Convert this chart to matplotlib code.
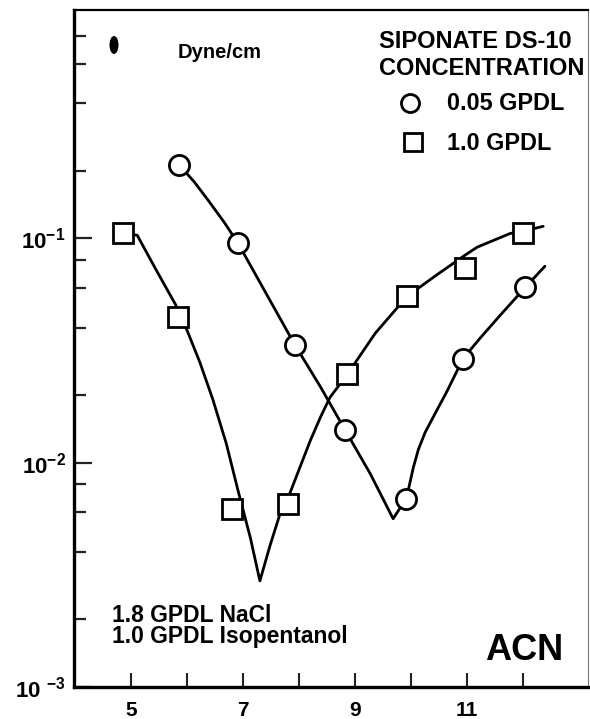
import matplotlib
matplotlib.use("Agg")
import matplotlib.pyplot as plt
from matplotlib.patches import Ellipse
from matplotlib.ticker import FixedLocator, NullFormatter

plt.rcParams['font.family'] = ['Liberation Sans', 'DejaVu Sans']
plt.rcParams['font.weight'] = 'bold'
plt.rcParams['mathtext.fontset'] = 'custom'
plt.rcParams['mathtext.rm'] = 'Liberation Sans:bold'
plt.rcParams['mathtext.bf'] = 'Liberation Sans:bold'
plt.rcParams['mathtext.it'] = 'Liberation Sans:bold'

# Measured interfacial tension (dyne/cm) against ACN
low_x = [5.86, 6.91, 7.93, 8.82, 9.91, 10.93, 12.04]
low_y = [0.212, 0.095, 0.0333, 0.0140, 0.0069, 0.0291, 0.0604]
high_x = [4.86, 5.84, 6.80, 7.80, 8.86, 9.93, 10.96, 12.00]
high_y = [0.106, 0.0444, 0.00624, 0.00656, 0.0247, 0.0551, 0.0734, 0.106]

# Hand-faired trend curves through each series
low_curve_x = [5.86, 6.13, 6.39, 6.66, 6.91, 7.41, 7.93, 8.38, 8.82, 9.27,
               9.68, 9.91, 9.96, 10.04, 10.13, 10.25, 10.43, 10.64, 10.93,
               11.23, 11.59, 12.04, 12.39]
low_curve_y = [0.212, 0.178, 0.146, 0.118, 0.095, 0.0568, 0.0333, 0.0218,
               0.0140, 0.00893, 0.00562, 0.0069, 0.00773, 0.00950, 0.01143,
               0.01361, 0.01656, 0.02075, 0.0291, 0.0358, 0.0453, 0.0604,
               0.0750]
high_curve_x = [4.86, 5.11, 5.45, 5.79, 6.00, 6.23, 6.46, 6.70, 6.91, 7.13,
                7.30, 7.48, 7.66, 7.84, 8.02, 8.20, 8.38, 8.55, 8.86, 9.36,
                9.93, 10.45, 10.96, 11.18, 11.77, 12.00, 12.36]
high_curve_y = [0.106, 0.103, 0.0720, 0.0508, 0.0388, 0.0279, 0.0191, 0.01216,
                0.0075, 0.00462, 0.00297, 0.00426, 0.00592, 0.00735, 0.0096,
                0.01253, 0.0159, 0.0195, 0.0247, 0.0377, 0.0551, 0.0684,
                0.0839, 0.0912, 0.105, 0.1074, 0.113]

x_ticks = [5, 6, 7, 8, 9, 10, 11, 12]
x_tick_labels = ['5', '', '7', '', '9', '', '11', '']
y_ticks = [1e-3, 1e-2, 1e-1]
y_tick_labels = [r'$\mathbf{10\ ^{-3}}$', r'$\mathbf{10^{-2}}$', r'$\mathbf{10^{-1}}$']
y_minor = [m * d for d in (1e-3, 1e-2, 1e-1) for m in (2, 4, 6, 8)]

legend_labels = ['0.05 GPDL', '1.0 GPDL']
legend_title = ['SIPONATE DS-10', 'CONCENTRATION']
notes = ['1.8 GPDL NaCl', '1.0 GPDL Isopentanol']

fig = plt.figure(figsize=(5.9, 7.19), dpi=100)
ax = fig.add_axes([74 / 590, 1 - 687 / 719, 514 / 590, 677 / 719])
ax.set_yscale('log')
ax.set_xlim(3.98, 13.16)
ax.set_ylim(1e-3, 1.04)

line_kw = dict(color='black', lw=2.0, solid_capstyle='round',
               solid_joinstyle='round', zorder=2)
ax.plot(low_curve_x, low_curve_y, **line_kw)
ax.plot(high_curve_x, high_curve_y, **line_kw)

mk_kw = dict(linestyle='none', mfc='white', mec='black', mew=2.0, zorder=3)
ax.plot(low_x, low_y, marker='o', ms=14.5, **mk_kw)
ax.plot(high_x, high_y, marker='s', ms=14.5, **mk_kw)

# spines
for side in ('left', 'bottom'):
    ax.spines[side].set_linewidth(2.4)
ax.spines['top'].set_linewidth(1.6)
ax.spines['right'].set_linewidth(0.8)
ax.spines['right'].set_color('#777777')

ax.set_xticks(x_ticks)
ax.set_xticklabels(x_tick_labels)
ax.set_yticks(y_ticks)
ax.set_yticklabels(y_tick_labels)
ax.yaxis.set_minor_locator(FixedLocator(y_minor))
ax.yaxis.set_minor_formatter(NullFormatter())
ax.xaxis.set_minor_locator(FixedLocator([]))
ax.tick_params(axis='x', which='major', direction='in', length=10, width=1.5,
               pad=10, labelsize=15, color='#222222')
ax.tick_params(axis='y', which='major', direction='in', length=13, width=1.6,
               pad=6, labelsize=16, color='#222222')
ax.tick_params(axis='y', which='minor', direction='in', length=8.5, width=1.6,
               color='#222222')
ax.tick_params(top=False, right=False, which='both')


def ax_x(px):
    return (px - 74) / 514


def ax_y(py):
    return (687 - py) / 677


T = ax.transAxes
txt = dict(transform=T, fontweight='bold', color='black', ha='left', va='baseline')

ax.text(ax_x(178), ax_y(58), 'Dyne/cm', fontsize=14.5, **txt)
ax.text(ax_x(379), ax_y(48), legend_title[0], fontsize=17, **txt)
ax.text(ax_x(379), ax_y(75), legend_title[1], fontsize=17, **txt)

ax.plot([ax_x(410)], [ax_y(103)], marker='o', ms=13, transform=T, clip_on=False,
        **mk_kw)
ax.plot([ax_x(413)], [ax_y(142)], marker='s', ms=13, transform=T, clip_on=False,
        **mk_kw)
ax.text(ax_x(447), ax_y(110), legend_labels[0], fontsize=16.8, **txt)
ax.text(ax_x(447), ax_y(150), legend_labels[1], fontsize=16.8, **txt)

ax.text(ax_x(112), ax_y(622), notes[0], fontsize=16.5, **txt)
ax.text(ax_x(112), ax_y(643), notes[1], fontsize=16.5, **txt)
ax.text(ax_x(485), ax_y(660), 'ACN', fontsize=26, **txt)

# small ink mark near the top of the frame
ax.add_patch(Ellipse((ax_x(114), ax_y(45)), 9 / 514, 18 / 677, transform=T,
                     facecolor='black', edgecolor='none', zorder=3))

fig.savefig('out.png', dpi=100)
